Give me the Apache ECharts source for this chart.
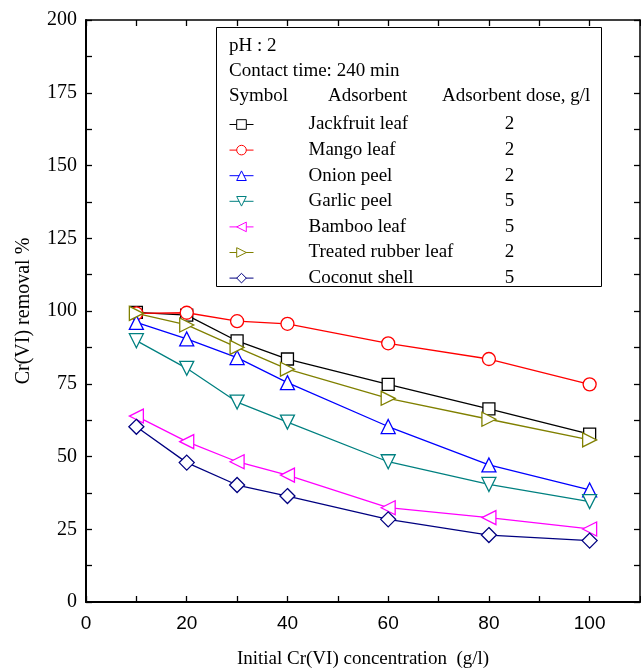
<!DOCTYPE html>
<html>
<head>
<meta charset="utf-8">
<script src="https://cdn.jsdelivr.net/npm/echarts@6/dist/echarts.min.js"></script>
<style>
  html, body { margin: 0; padding: 0; background: #fff; }
  #chart { width: 641px; height: 668px; }
</style>
</head>
<body>
<div id="chart"></div>
<script>
// Initial Cr(VI) concentration (g/l)
const concentrations = [10, 20, 30, 40, 60, 80, 100];

// Cr(VI) removal % for each adsorbent
const jackfruitLeaf = [99.5, 98.6, 89.7, 83.5, 74.8, 66.4, 57.7];
const mangoLeaf     = [99.2, 99.4, 96.5, 95.6, 88.9, 83.5, 74.8];
const onionPeel     = [96.1, 90.4, 84.0, 75.4, 60.3, 47.1, 38.5];
const garlicPeel    = [89.8, 80.3, 68.7, 61.8, 48.2, 40.4, 34.5];
const bambooLeaf    = [63.9, 55.1, 48.2, 43.6, 32.4, 29.0, 25.1];
const rubberLeaf    = [99.2, 95.2, 87.5, 80.0, 70.0, 62.8, 55.7];
const coconutShell  = [60.2, 47.9, 40.2, 36.4, 28.4, 23.0, 21.1];

const adsorbents = ['Jackfruit leaf', 'Mango leaf', 'Onion peel', 'Garlic peel',
                    'Bamboo leaf', 'Treated rubber leaf', 'Coconut shell'];
const doses = [2, 2, 2, 5, 5, 2, 5];
const removal = [jackfruitLeaf, mangoLeaf, onionPeel, garlicPeel,
                 bambooLeaf, rubberLeaf, coconutShell];

const colors = ['#000000', '#ff0000', '#0000ff', '#008080', '#ff00ff', '#808000', '#000080'];
const symbols = ['rect', 'circle', 'triangle', 'triangle', 'triangle', 'triangle', 'diamond'];
const rotations = [0, 0, 0, 180, 90, -90, 0];
const symbolSizes = [12, 13, 14, 14, 14, 14, 15];

const xTickLabels = [0, 20, 40, 60, 80, 100];
const yTickLabels = [0, 25, 50, 75, 100, 125, 150, 175, 200];

const serif = 'Liberation Serif';
const sans = 'Liberation Sans';

const doseByName = {};
adsorbents.forEach((n, i) => { doseByName[n] = doses[i]; });

const series = adsorbents.map((name, i) => ({
  name: name,
  type: 'line',
  xAxisIndex: 0,
  yAxisIndex: 0,
  data: concentrations.map((c, j) => [c, removal[i][j]]),
  symbol: symbols[i],
  symbolRotate: rotations[i],
  symbolSize: symbolSizes[i],
  showAllSymbol: true,
  lineStyle: { color: colors[i], width: 1.3 },
  itemStyle: { color: '#ffffff', borderColor: colors[i], borderWidth: 1.3 },
  emphasis: { disabled: true },
  animation: false,
  z: 2 + i
}));

const axisCommon = {
  type: 'value',
  splitLine: { show: false },
  axisLine: { show: true, onZero: false, lineStyle: { color: '#000', width: 2 } },
  axisTick: { show: true, inside: true, length: 6, lineStyle: { color: '#000', width: 1.3 } }
};

const chart = echarts.init(document.getElementById('chart'), null, { renderer: 'canvas' });
chart.setOption({
  animation: false,
  backgroundColor: '#ffffff',
  grid: { left: 86, right: 1, top: 20, bottom: 66, containLabel: false, outerBoundsMode: 'none' },
  xAxis: [
    Object.assign({}, axisCommon, {
      position: 'bottom', min: 0, max: 110, interval: 10,
      axisLabel: {
        color: '#000', fontFamily: sans, fontSize: 19, margin: 12,
        formatter: v => (xTickLabels.indexOf(v) >= 0 ? String(v) : '')
      },
      name: 'Initial Cr(VI) concentration  (g/l)',
      nameLocation: 'middle', nameGap: 48,
      nameTextStyle: { color: '#000', fontFamily: serif, fontSize: 19 }
    }),
    Object.assign({}, axisCommon, {
      position: 'top', min: 0, max: 110, interval: 10,
      axisLine: { show: true, onZero: false, lineStyle: { color: '#000', width: 1.5 } },
      axisLabel: { show: false }
    })
  ],
  yAxis: [
    Object.assign({}, axisCommon, {
      position: 'left', min: 0, max: 200, interval: 12.5,
      axisLabel: {
        color: '#000', fontFamily: serif, fontSize: 20, margin: 9,
        formatter: v => (yTickLabels.indexOf(v) >= 0 ? String(v) : '')
      },
      name: 'Cr(VI) removal %',
      nameLocation: 'middle', nameGap: 52,
      nameTextStyle: { color: '#000', fontFamily: serif, fontSize: 20 }
    }),
    Object.assign({}, axisCommon, {
      position: 'right', min: 0, max: 200, interval: 12.5,
      axisLine: { show: true, onZero: false, lineStyle: { color: '#000', width: 1.5 } },
      axisLabel: { show: false }
    })
  ],
  legend: {
    data: adsorbents,
    orient: 'vertical',
    left: 229, top: 115,
    itemWidth: 24, itemHeight: 12, itemGap: 6.6,
    padding: 0,
    selectedMode: false,
    lineStyle: { width: 1 },
    itemStyle: { borderWidth: 1 },
    formatter: name => '{n|' + name + '}{d|' + doseByName[name] + '}',
    textStyle: {
      color: '#000', fontFamily: serif, fontSize: 19,
      rich: {
        n: { width: 180, padding: [0, 0, 0, 50], fontFamily: serif, fontSize: 19 },
        d: { width: 42, align: 'center', fontFamily: serif, fontSize: 19 }
      }
    }
  },
  graphic: [
    { type: 'rect', left: 216, top: 27, z: 0,
      shape: { width: 385, height: 259 },
      style: { fill: '#fff', stroke: '#000', lineWidth: 1 } },
    { type: 'text', left: 229, top: 37, z: 5,
      style: { text: 'pH : 2', font: '19px "Liberation Serif"', fill: '#000' } },
    { type: 'text', left: 229, top: 62, z: 5,
      style: { text: 'Contact time: 240 min', font: '19px "Liberation Serif"', fill: '#000' } },
    { type: 'text', left: 229, top: 87, z: 5,
      style: { text: 'Symbol', font: '19px "Liberation Serif"', fill: '#000' } },
    { type: 'text', left: 328, top: 87, z: 5,
      style: { text: 'Adsorbent', font: '19px "Liberation Serif"', fill: '#000' } },
    { type: 'text', left: 442, top: 87, z: 5,
      style: { text: 'Adsorbent dose, g/l', font: '19px "Liberation Serif"', fill: '#000' } }
  ],
  series: series
});
</script>
</body>
</html>
